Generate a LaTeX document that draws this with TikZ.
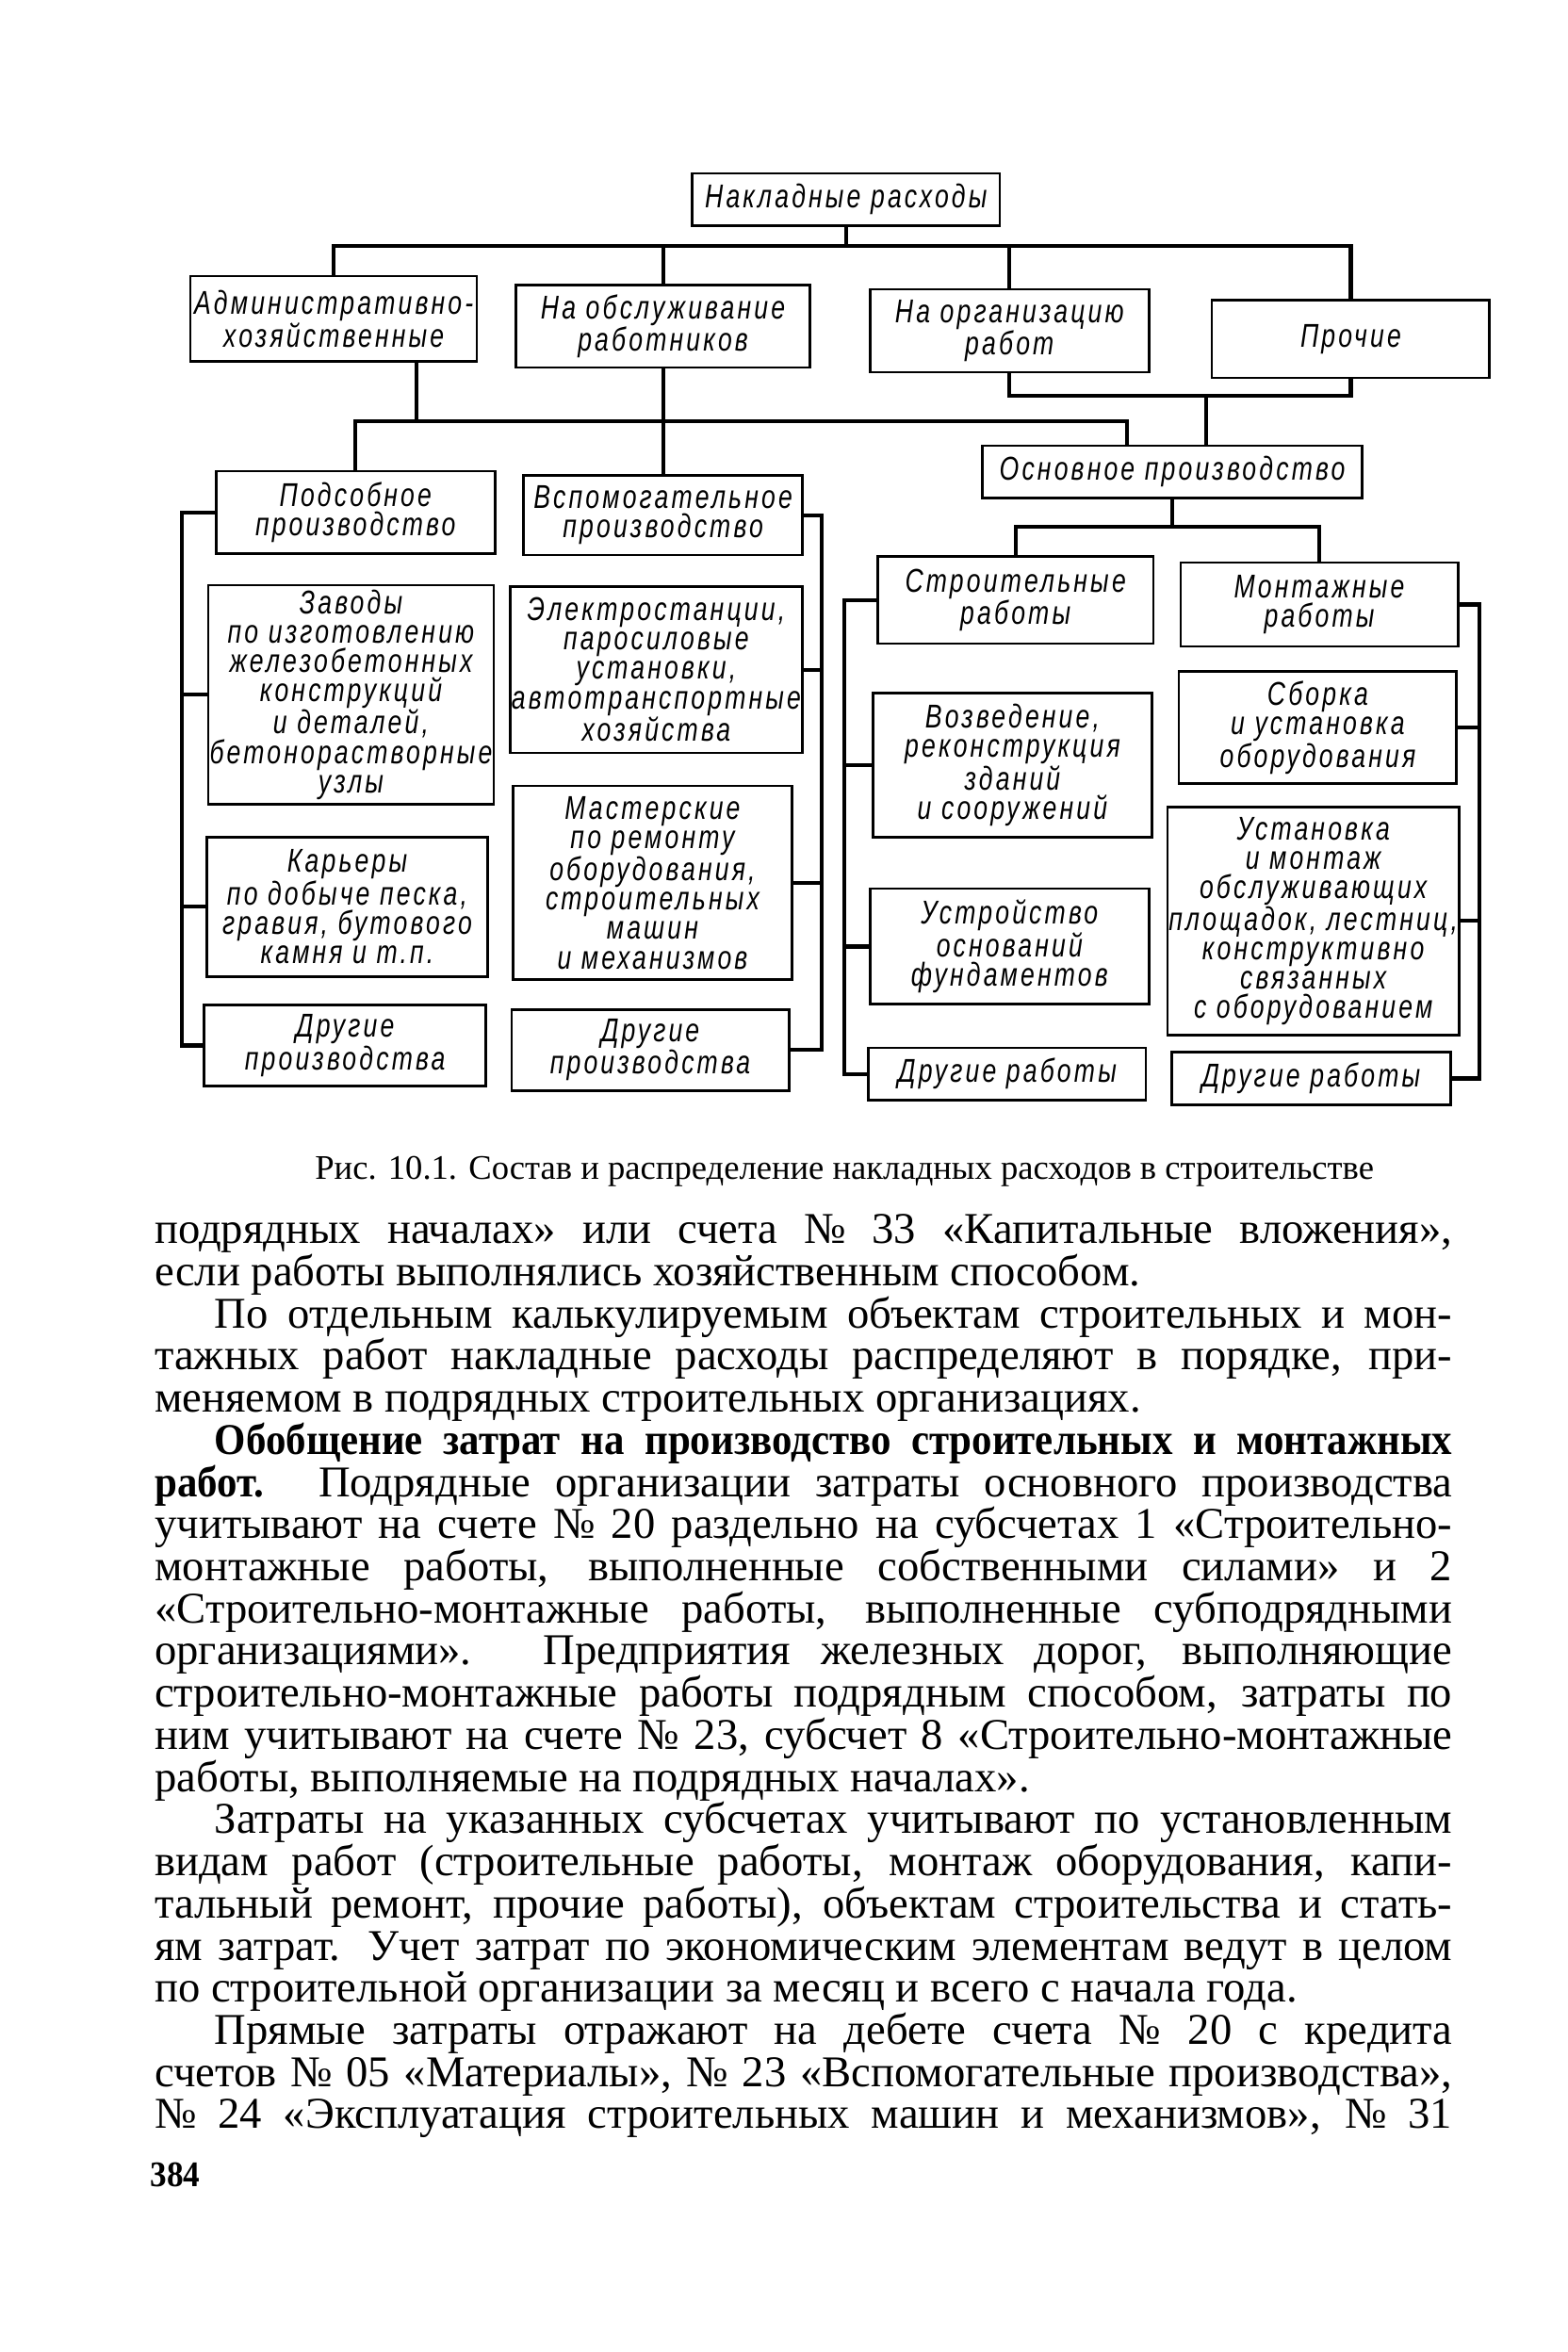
\documentclass[tikz,border=0pt]{standalone}
\usepackage{fontspec}
\setmainfont{Liberation Serif}[BoldFeatures={FakeStretch=0.92}]
\newfontfamily\gostfont{Liberation Sans}[FakeStretch=0.76,LetterSpace=9]
\usetikzlibrary{positioning, calc}

\newcommand{\boxfont}{\gostfont\itshape\fontsize{22}{19.5}\selectfont}
\newcommand{\bodyfont}{\fontsize{29.3}{28.1}\selectfont}
\newcommand{\capfont}{\fontsize{23}{25}\selectfont}

\begin{document}
\begin{tikzpicture}[x=1pt, y=-1pt,
    box/.style={draw, line width=1.6pt, inner sep=1pt, align=center, font=\boxfont},
    link/.style={line width=2.6pt, line cap=rect}]
  \useasboundingbox (0,0) rectangle (1045,1568);

  % top of the tree
  \node[box, minimum width=205pt, minimum height=35pt] (total) at (564,133) {Накладные расходы};

  % kinds of overheads
  \node[box, minimum width=191pt, minimum height=57pt] (adm)   at (222.5,212.5) {Административно-\\хозяйственные};
  \node[box, minimum width=196pt, minimum height=55pt] (obsl)  at (442,217.5)   {На обслуживание\\работников};
  \node[box, minimum width=186pt, minimum height=55pt] (org)   at (673,220.5)   {На организацию\\работ};
  \node[box, minimum width=185pt, minimum height=52pt] (proch) at (900.5,226)   {Прочие};

  % where they go
  \node[box, minimum width=253pt, minimum height=35pt] (osn)    at (781.5,314.5) {Основное производство};
  \node[box, minimum width=186pt, minimum height=55pt] (podsob) at (237,341.5)   {Подсобное\\производство};
  \node[box, minimum width=186pt, minimum height=53pt] (vspom)  at (442,343.5)   {Вспомогательное\\производство};

  % auxiliary shops
  \node[box, minimum width=186pt, minimum height=146pt] (zavody)  at (234,463)   {Заводы\\по изготовлению\\железобетонных\\конструкций\\и деталей,\\бетонорастворные\\узлы};
  \node[box, minimum width=187pt, minimum height=93pt]  (karery)  at (231.5,604.5) {Карьеры\\по добыче песка,\\гравия, бутового\\камня и т.п.};
  \node[box, minimum width=188pt, minimum height=54pt]  (drugieA) at (230,697)   {Другие\\производства};

  \node[box, minimum width=185pt, minimum height=111pt] (elektro) at (437.5,446.5) {Электростанции,\\паросиловые\\установки,\\автотранспортные\\хозяйства};
  \node[box, minimum width=186pt, minimum height=129pt] (master)  at (435,588.5)   {Мастерские\\по ремонту\\оборудования,\\строительных\\машин\\и механизмов};
  \node[box, minimum width=185pt, minimum height=54pt]  (drugieB) at (433.5,700)   {Другие\\производства};

  % main production
  \node[box, minimum width=184pt, minimum height=58pt]  (stroit)  at (677,400)   {Строительные\\работы};
  \node[box, minimum width=186pt, minimum height=96pt]  (vozved)  at (675,510)   {Возведение,\\реконструкция\\зданий\\и сооружений};
  \node[box, minimum width=186pt, minimum height=77pt]  (fundam)  at (673,631)   {Устройство\\оснований\\фундаментов};
  \node[box, minimum width=185pt, minimum height=35pt]  (drugieC) at (671.5,716)  {Другие работы};

  \node[box, minimum width=185pt, minimum height=56pt]  (montazh) at (879.5,403)  {Монтажные\\работы};
  \node[box, minimum width=185pt, minimum height=75pt]  (sborka)  at (878.5,485)  {Сборка\\и установка\\оборудования};
  \node[box, minimum width=185pt, minimum height=152pt] (ustan)   at (875.5,614)  {Установка\\и монтаж\\обслуживающих\\площадок, лестниц,\\конструктивно\\связанных\\с оборудованием};
  \node[box, minimum width=186pt, minimum height=35pt]  (drugieD) at (874,719)    {Другие работы};

  % buses
  \coordinate (bus1) at (564,164);
  \coordinate (bus3) at (804,264);
  \coordinate (bus2) at (442,281);
  \coordinate (bus4) at (781.5,351);
  \coordinate (railA) at (121,0);
  \coordinate (railB) at (548,0);
  \coordinate (railC) at (563,0);
  \coordinate (railD) at (986,0);

  \draw[link] (total.south) -- (bus1);
  \draw[link] (adm.north) |- (bus1) -| (proch.north);
  \draw[link] (obsl.north) -- (obsl.north |- bus1);
  \draw[link] (org.north) -- (org.north |- bus1);

  \draw[link] (org.south) |- (bus3) -| (proch.south);
  \draw[link] (bus3) -- (bus3 |- osn.north);

  \draw[link] ([xshift=55pt]adm.south) -- ([xshift=55pt]adm.south |- bus2);
  \draw[link] (podsob.north) |- (bus2) -| ([xshift=-30pt]osn.north);
  \draw[link] (obsl.south) -- (vspom.north);

  \draw[link] (osn.south) -- (bus4);
  \draw[link] (stroit.north) |- (bus4) -| (montazh.north);

  % side rails
  \draw[link] (podsob.west) -- (podsob.west -| railA) -- (drugieA.west -| railA) -- (drugieA.west);
  \foreach \n in {zavody, karery}
    \draw[link] (\n.west) -- (\n.west -| railA);
  \draw[link] (vspom.east) -- (vspom.east -| railB) -- (drugieB.east -| railB) -- (drugieB.east);
  \foreach \n in {elektro, master}
    \draw[link] (\n.east) -- (\n.east -| railB);
  \draw[link] (stroit.west) -- (stroit.west -| railC) -- (drugieC.west -| railC) -- (drugieC.west);
  \foreach \n in {vozved, fundam}
    \draw[link] (\n.west) -- (\n.west -| railC);
  \draw[link] (montazh.east) -- (montazh.east -| railD) -- (drugieD.east -| railD) -- (drugieD.east);
  \foreach \n in {sborka, ustan}
    \draw[link] (\n.east) -- (\n.east -| railD);

  % caption and page text
  \node[anchor=base, inner sep=0pt, font=\capfont] (caption) at (563,786)
    {Рис. 10.1. Состав и распределение накладных расходов в строительстве};

  \node[anchor=base west, inner sep=0pt, text width=865pt, align=justify, font=\bodyfont] (body) at (103,829)
  {%
    \parindent=40pt \parskip=0pt \tolerance=10000 \hbadness=10000 \hyphenpenalty=10000
    \noindent подрядных началах» или счета №~33 «Капитальные вложения»,\linebreak
    если работы выполнялись хозяйственным способом.\par
    По отдельным калькулируемым объектам строительных и мон-\linebreak
    тажных работ накладные расходы распределяют в порядке, при-\linebreak
    меняемом в подрядных строительных организациях.\par
    \textbf{Обобщение затрат на производство строительных и монтажных\linebreak
    работ.} Подрядные организации затраты основного производства\linebreak
    учитывают на счете №~20 раздельно на субсчетах 1 «Строительно-\linebreak
    монтажные работы, выполненные собственными силами» и~2\linebreak
    «Строительно-монтажные работы, выполненные субподрядными\linebreak
    организациями». Предприятия железных дорог, выполняющие\linebreak
    строительно-монтажные работы подрядным способом, затраты по\linebreak
    ним учитывают на счете №~23, субсчет 8 «Строительно-монтажные\linebreak
    работы, выполняемые на подрядных началах».\par
    Затраты на указанных субсчетах учитывают по установленным\linebreak
    видам работ (строительные работы, монтаж оборудования, капи-\linebreak
    тальный ремонт, прочие работы), объектам строительства и стать-\linebreak
    ям затрат. Учет затрат по экономическим элементам ведут в целом\linebreak
    по строительной организации за месяц и всего с начала года.\par
    \parfillskip=0pt
    Прямые затраты отражают на дебете счета №~20 с кредита\linebreak
    счетов №~05 «Материалы», №~23 «Вспомогательные производства»,\linebreak
    №~24 «Эксплуатация строительных машин и механизмов», №~31\par
  };

  \node[anchor=base west, inner sep=0pt, font=\fontsize{24}{26}\selectfont\bfseries] (pagenum) at (100,1458) {384};
\end{tikzpicture}
\end{document}
